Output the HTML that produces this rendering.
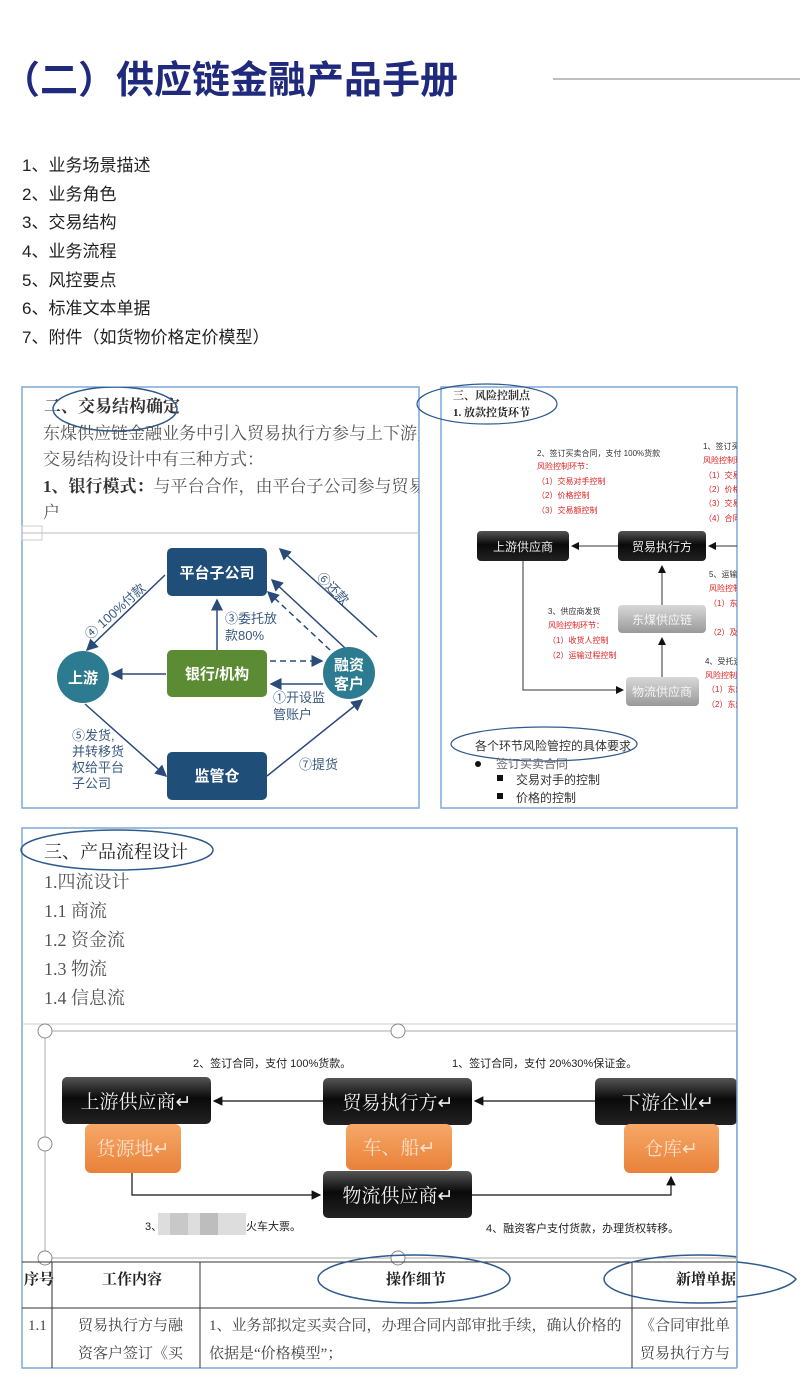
<!DOCTYPE html>
<html><head><meta charset="utf-8"><style>
body{margin:0;background:#fff;width:800px;height:1400px;overflow:hidden}
svg{display:block}
.s{font-family:"Liberation Serif","Noto Serif CJK SC",serif}
.a{font-family:"Liberation Sans","Noto Sans CJK SC",sans-serif}
</style></head><body>
<svg width="800" height="1400" viewBox="0 0 800 1400" xmlns="http://www.w3.org/2000/svg">
<defs>
<marker id="ar" markerWidth="8" markerHeight="8" refX="7" refY="4" orient="auto"><path d="M0,0 L8,4 L0,8 z" fill="#2a4a7a"/></marker>
<marker id="ak" markerWidth="8" markerHeight="8" refX="7" refY="4" orient="auto"><path d="M0,0 L8,4 L0,8 z" fill="#111"/></marker>
<linearGradient id="blk" x1="0" y1="0" x2="0" y2="1"><stop offset="0" stop-color="#555"/><stop offset="0.45" stop-color="#0a0a0a"/><stop offset="1" stop-color="#222"/></linearGradient>
<linearGradient id="gry" x1="0" y1="0" x2="0" y2="1"><stop offset="0" stop-color="#d8d8d8"/><stop offset="1" stop-color="#999"/></linearGradient>
<linearGradient id="org" x1="0" y1="0" x2="0" y2="1"><stop offset="0" stop-color="#f6a868"/><stop offset="1" stop-color="#e9813a"/></linearGradient>
<clipPath id="cA"><rect x="22" y="387" width="397" height="421"/></clipPath>
<clipPath id="cB"><rect x="441" y="387" width="296" height="421"/></clipPath>
</defs>

<!-- Title -->
<text x="2" y="93" class="a" font-size="38" font-weight="bold" fill="#1f2a7c">（二）供应链金融产品手册</text>
<line x1="553" y1="79" x2="800" y2="79" stroke="#aaa" stroke-width="1.5"/>

<!-- list -->
<g class="a" font-size="17" fill="#222">
<text x="22" y="171">1、业务场景描述</text>
<text x="22" y="200">2、业务角色</text>
<text x="22" y="228">3、交易结构</text>
<text x="22" y="257">4、业务流程</text>
<text x="22" y="286">5、风控要点</text>
<text x="22" y="314">6、标准文本单据</text>
<text x="22" y="343">7、附件（如货物价格定价模型）</text>
</g>

<!-- Panel A -->
<rect x="22" y="387" width="397" height="421" fill="#fff" stroke="#7ea7d8" stroke-width="1.5"/>
<g clip-path="url(#cA)">
<text x="44" y="412" class="s" font-size="17" font-weight="bold" fill="#333">二、交易结构确定</text>
<ellipse cx="115" cy="409" rx="62" ry="22" fill="none" stroke="#2e5a8e" stroke-width="1.5"/>
<g class="s" font-size="17" fill="#555">
<text x="43" y="439">东煤供应链金融业务中引入贸易执行方参与上下游贸</text>
<text x="43" y="465">交易结构设计中有三种方式：</text>
<text x="43" y="492"><tspan font-weight="bold" fill="#333">1、银行模式：</tspan>与平台合作，由平台子公司参与贸易，</text>
<text x="43" y="518">户</text>
</g>
</g>
<line x1="22" y1="533" x2="419" y2="533" stroke="#bbb"/>
<rect x="22" y="526" width="20" height="14" fill="none" stroke="#ccc"/>

<g stroke="#2a4a7a" stroke-width="1.5" fill="none">
<line x1="165" y1="575" x2="87" y2="650" marker-end="url(#ar)"/>
<line x1="166" y1="674" x2="112" y2="674" marker-end="url(#ar)"/>
<line x1="217" y1="650" x2="217" y2="600" marker-end="url(#ar)"/>
<line x1="270" y1="661" x2="322" y2="661" stroke-dasharray="6,4" marker-end="url(#ar)"/>
<line x1="323" y1="684" x2="271" y2="684" marker-end="url(#ar)"/>
<line x1="330" y1="650" x2="268" y2="592" stroke-dasharray="6,4" marker-end="url(#ar)"/>
<line x1="345" y1="648" x2="272" y2="580" marker-end="url(#ar)"/>
<line x1="377" y1="637" x2="280" y2="549" marker-end="url(#ar)"/>
<line x1="85" y1="704" x2="166" y2="776" marker-end="url(#ar)"/>
<line x1="267" y1="776" x2="362" y2="700" marker-end="url(#ar)"/>
</g>
<rect x="167" y="548" width="100" height="48" rx="5" fill="#1f4e79"/>
<rect x="167" y="650" width="100" height="47" rx="5" fill="#5b8c34"/>
<rect x="167" y="752" width="100" height="48" rx="5" fill="#1f4e79"/>
<circle cx="83" cy="677" r="26" fill="#2c7b90"/>
<circle cx="349" cy="673" r="26" fill="#2c7b90"/>
<g class="a" font-weight="bold" fill="#fff" font-size="15" text-anchor="middle">
<text x="217" y="578">平台子公司</text>
<text x="217" y="679">银行/机构</text>
<text x="217" y="781">监管仓</text>
<text x="83" y="683">上游</text>
<text x="349" y="670">融资</text>
<text x="349" y="689">客户</text>
</g>
<g class="a" font-size="13" fill="#3a5a80">
<text transform="translate(90,640) rotate(-42)">④ 100%付款</text>
<text transform="translate(316,578) rotate(45)">⑥还款</text>
<text x="225" y="623">③委托放</text>
<text x="225" y="640">款80%</text>
<text x="273" y="702">①开设监</text>
<text x="273" y="719">管账户</text>
<text x="72" y="740">⑤发货,</text>
<text x="72" y="756">并转移货</text>
<text x="72" y="772">权给平台</text>
<text x="72" y="788">子公司</text>
<text x="299" y="769">⑦提货</text>
</g>

<!-- Panel B -->
<rect x="441" y="387" width="296" height="421" fill="#fff" stroke="#7ea7d8" stroke-width="1.5"/>
<ellipse cx="487" cy="404" rx="70" ry="20" fill="none" stroke="#2e5a8e" stroke-width="1.2"/>
<text x="453" y="399" class="s" font-size="11" font-weight="bold" fill="#333">三、风险控制点</text>
<text x="453" y="416" class="s" font-size="11" font-weight="bold" fill="#222">1. 放款控货环节</text>
<g class="a" font-size="8" clip-path="url(#cB)">
<text x="537" y="456" fill="#333">2、签订买卖合同，支付 100%货款</text>
<text x="537" y="469" fill="#e02020">风险控制环节：</text>
<text x="537" y="484" fill="#e02020">（1）交易对手控制</text>
<text x="537" y="498" fill="#e02020">（2）价格控制</text>
<text x="537" y="513" fill="#e02020">（3）交易额控制</text>
<text x="703" y="449" fill="#333">1、签订买卖合同</text>
<text x="703" y="463" fill="#e02020">风险控制环节</text>
<text x="704" y="478" fill="#e02020">（1）交易对手</text>
<text x="704" y="492" fill="#e02020">（2）价格控制</text>
<text x="704" y="506" fill="#e02020">（3）交易额</text>
<text x="704" y="521" fill="#e02020">（4）合同</text>
<text x="548" y="614" fill="#333">3、供应商发货</text>
<text x="548" y="628" fill="#e02020">风险控制环节：</text>
<text x="548" y="643" fill="#e02020">（1）收货人控制</text>
<text x="548" y="658" fill="#e02020">（2）运输过程控制</text>
<text x="709" y="577" fill="#333">5、运输过程</text>
<text x="709" y="591" fill="#e02020">风险控制环节</text>
<text x="709" y="606" fill="#e02020">（1）东煤</text>
<text x="709" y="635" fill="#e02020">（2）及时</text>
<text x="705" y="664" fill="#333">4、受托运输</text>
<text x="705" y="678" fill="#e02020">风险控制环节</text>
<text x="707" y="692" fill="#e02020">（1）东煤</text>
<text x="707" y="707" fill="#e02020">（2）东煤</text>
</g>
<g stroke="#333" stroke-width="1" fill="none">
<line x1="618" y1="546" x2="572" y2="546" marker-end="url(#ak)"/>
<line x1="737" y1="546" x2="709" y2="546" marker-end="url(#ak)"/>
<line x1="662" y1="605" x2="662" y2="566" marker-end="url(#ak)"/>
<line x1="662" y1="677" x2="662" y2="638" marker-end="url(#ak)"/>
<polyline points="523,561 523,690 623,690" marker-end="url(#ak)"/>
</g>
<rect x="477" y="531" width="92" height="30" rx="4" fill="url(#blk)"/>
<rect x="618" y="531" width="88" height="30" rx="4" fill="url(#blk)"/>
<rect x="618" y="605" width="88" height="28" rx="4" fill="url(#gry)"/>
<rect x="626" y="677" width="73" height="29" rx="4" fill="url(#gry)"/>
<g class="a" font-size="12" fill="#eee" text-anchor="middle">
<text x="523" y="551">上游供应商</text>
<text x="662" y="551">贸易执行方</text>
<text x="662" y="624" fill="#f4f4f4">东煤供应链</text>
<text x="662" y="696" fill="#f4f4f4">物流供应商</text>
</g>
<ellipse cx="544" cy="744" rx="93" ry="17" fill="none" stroke="#2e5a8e" stroke-width="1.2"/>
<g class="a" font-size="12" fill="#333">
<text x="475" y="750">各个环节风险管控的具体要求</text>
<circle cx="478" cy="764" r="3" fill="#111"/>
<text x="496" y="768" fill="#666">签订买卖合同</text>
<rect x="497" y="775" width="6" height="6" fill="#111"/>
<text x="516" y="784">交易对手的控制</text>
<rect x="497" y="793" width="6" height="6" fill="#111"/>
<text x="516" y="802">价格的控制</text>
</g>

<!-- Panel C -->
<rect x="22" y="828" width="715" height="540" fill="#fff" stroke="#7ea7d8" stroke-width="1.5"/>
<ellipse cx="117" cy="850" rx="96" ry="20" fill="none" stroke="#2e5a8e" stroke-width="1.5"/>
<text x="44" y="858" class="s" font-size="18" fill="#222">三、产品流程设计</text>
<g class="s" font-size="18" fill="#555">
<text x="44" y="888">1.四流设计</text>
<text x="44" y="917">1.1 商流</text>
<text x="44" y="946">1.2 资金流</text>
<text x="44" y="975">1.3 物流</text>
<text x="44" y="1004">1.4 信息流</text>
</g>
<g stroke="#aaa" fill="none">
<line x1="22" y1="1024" x2="737" y2="1024" stroke="#ccc"/>
<line x1="45" y1="1031" x2="737" y2="1031"/>
<line x1="45" y1="1031" x2="45" y2="1258"/>
<line x1="45" y1="1258" x2="737" y2="1258"/>
</g>
<g fill="#fff" stroke="#888">
<circle cx="45" cy="1031" r="7"/><circle cx="398" cy="1031" r="7"/>
<circle cx="45" cy="1144" r="7"/><circle cx="45" cy="1258" r="7"/><circle cx="398" cy="1258" r="7"/>
</g>
<g class="a" font-size="11" fill="#222">
<text x="193" y="1067">2、签订合同，支付 100%货款。</text>
<text x="452" y="1067">1、签订合同，支付 20%30%保证金。</text>
<text x="145" y="1230">3、</text>
<text x="246" y="1230">火车大票。</text>
<text x="486" y="1232">4、融资客户支付货款，办理货权转移。</text>
</g>
<rect x="158" y="1213" width="88" height="22" fill="#ddd"/>
<rect x="170" y="1213" width="18" height="22" fill="#c8c8c8"/><rect x="200" y="1213" width="18" height="22" fill="#bdbdbd"/>
<g stroke="#111" stroke-width="1.2" fill="none">
<line x1="323" y1="1101" x2="214" y2="1101" marker-end="url(#ak)"/>
<line x1="595" y1="1101" x2="475" y2="1101" marker-end="url(#ak)"/>
<polyline points="132,1173 132,1195 320,1195" marker-end="url(#ak)"/>
<polyline points="472,1195 671,1195 671,1177" marker-end="url(#ak)"/>
</g>
<rect x="62" y="1077" width="149" height="47" rx="5" fill="url(#blk)"/>
<rect x="323" y="1078" width="149" height="47" rx="5" fill="url(#blk)"/>
<rect x="595" y="1078" width="142" height="47" rx="5" fill="url(#blk)"/>
<rect x="85" y="1124" width="96" height="49" rx="6" fill="url(#org)"/>
<rect x="346" y="1124" width="106" height="46" rx="6" fill="url(#org)"/>
<rect x="624" y="1124" width="95" height="49" rx="6" fill="url(#org)"/>
<rect x="323" y="1171" width="149" height="47" rx="5" fill="url(#blk)"/>
<g class="s" font-size="19" fill="#eee" text-anchor="middle">
<text x="136" y="1108">上游供应商↵</text>
<text x="398" y="1109">贸易执行方↵</text>
<text x="668" y="1109">下游企业↵</text>
<text x="133" y="1155" fill="#fde0c8">货源地↵</text>
<text x="399" y="1154" fill="#fde0c8">车、船↵</text>
<text x="671" y="1155" fill="#fde0c8">仓库↵</text>
<text x="398" y="1202">物流供应商↵</text>
</g>

<!-- table -->
<g stroke="#333" stroke-width="1">
<line x1="22" y1="1262" x2="737" y2="1262"/>
<line x1="22" y1="1308" x2="737" y2="1308"/>
<line x1="52" y1="1262" x2="52" y2="1368"/>
<line x1="200" y1="1262" x2="200" y2="1368"/>
<line x1="632" y1="1262" x2="632" y2="1368"/>
</g>
<g class="s" font-size="15" fill="#222">
<text x="24" y="1284" font-weight="bold">序号</text>
<text x="102" y="1284" font-weight="bold">工作内容</text>
<text x="386" y="1284" font-weight="bold">操作细节</text>
<text x="676" y="1284" font-weight="bold">新增单据</text>
<text x="28" y="1330" fill="#444">1.1</text>
<text x="78" y="1330" fill="#444">贸易执行方与融</text>
<text x="78" y="1358" fill="#444">资客户签订《买</text>
<text x="209" y="1330" fill="#444">1、业务部拟定买卖合同，办理合同内部审批手续，确认价格的</text>
<text x="209" y="1358" fill="#444">依据是“价格模型”；</text>
<text x="640" y="1330" fill="#444">《合同审批单</text>
<text x="640" y="1358" fill="#444">贸易执行方与</text>
</g>
<ellipse cx="414" cy="1279" rx="96" ry="24" fill="none" stroke="#2e5a8e" stroke-width="1.5"/>
<ellipse cx="700" cy="1279" rx="96" ry="24" fill="none" stroke="#2e5a8e" stroke-width="1.5"/>
<rect x="737" y="828" width="63" height="572" fill="#fff"/>
<line x1="737" y1="828" x2="737" y2="1368" stroke="#7ea7d8" stroke-width="1.5"/>
<path d="M737,1262 A96,24 0 0 1 796,1279 A96,24 0 0 1 737,1297" fill="none" stroke="#2e5a8e" stroke-width="1.5"/>
</svg>
</body></html>
